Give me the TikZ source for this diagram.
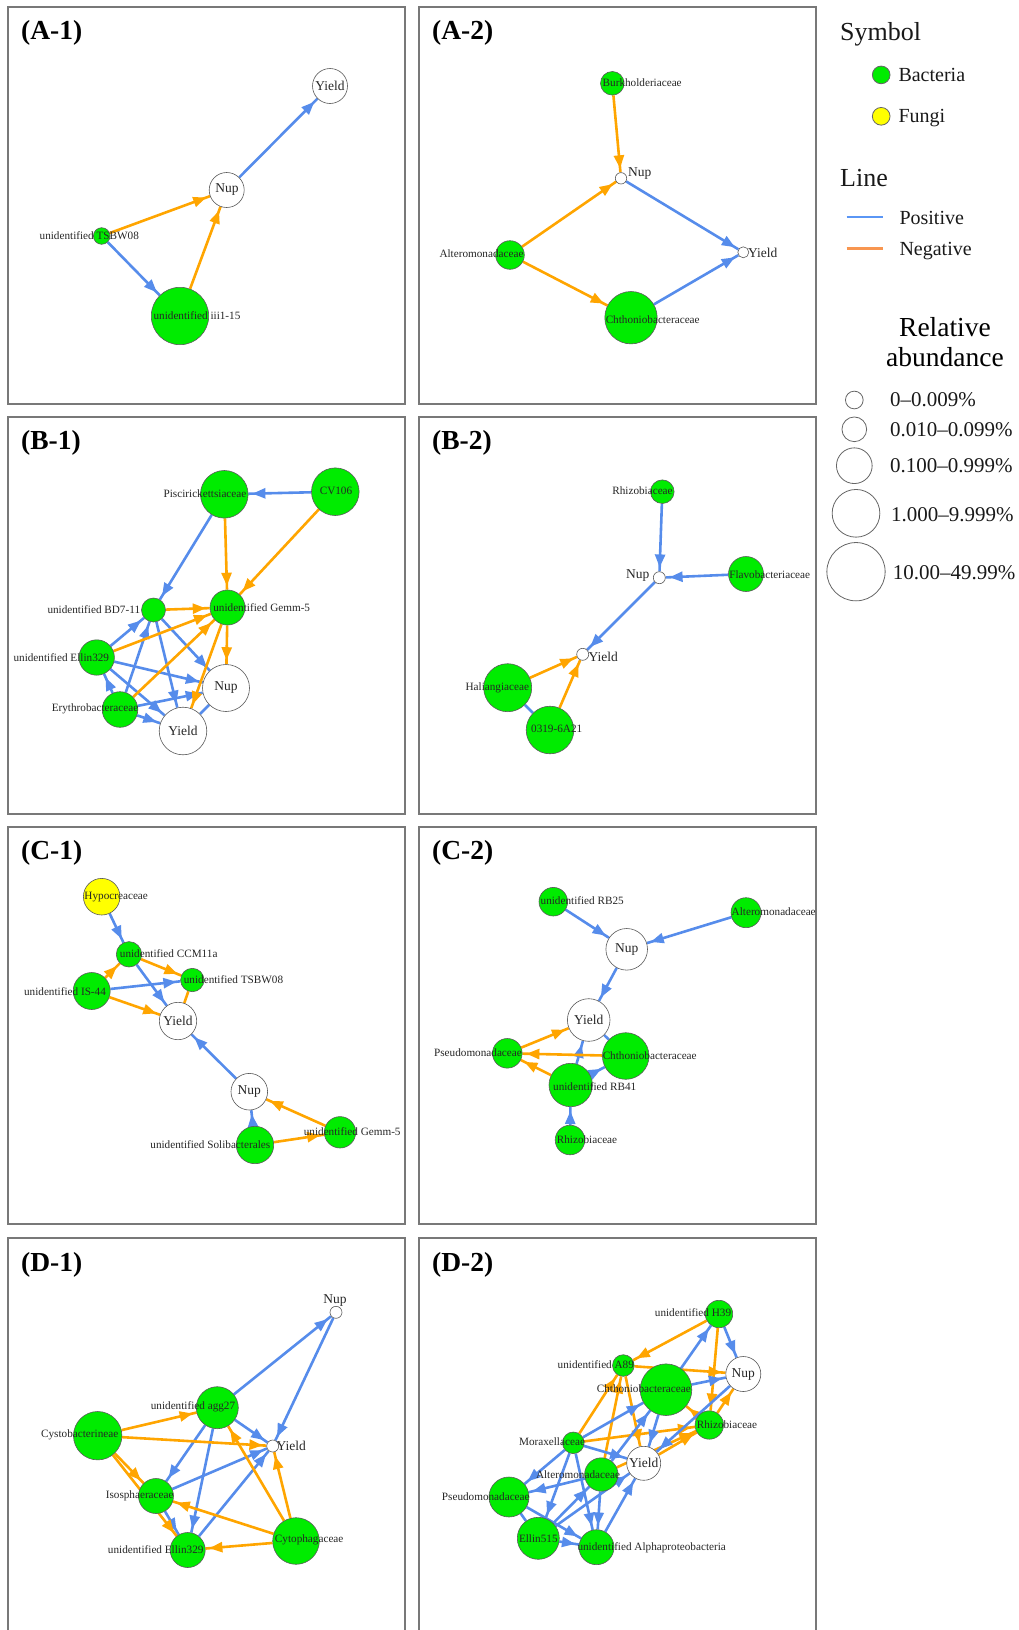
\documentclass[tikz,border=0pt]{standalone}
\usepackage{fontspec}
\setmainfont{Liberation Serif}
\usetikzlibrary{arrows.meta,decorations.markings,shapes.geometric}
\pgfdeclarelayer{edges}
\pgfsetlayers{edges,main}
\definecolor{posblue}{RGB}{86,140,235}
\definecolor{negorange}{RGB}{255,165,0}
\definecolor{taxgreen}{RGB}{0,236,0}
\definecolor{fungyellow}{RGB}{255,255,0}
\definecolor{framegray}{RGB}{120,120,120}
\definecolor{rimgray}{RGB}{90,90,90}
\definecolor{legblue}{RGB}{90,150,245}
\definecolor{legorange}{RGB}{248,150,80}
\tikzset{
  panel/.style={draw=framegray, line width=1.1pt},
  ptitle/.style={font=\fontsize{27.5}{28}\selectfont\bfseries, anchor=west, inner sep=0pt},
  taxon/.style={circle, draw=rimgray, line width=0.6pt, fill=taxgreen, minimum size=#1, inner sep=0pt},
  fungus/.style={circle, draw=rimgray, line width=0.6pt, fill=fungyellow, minimum size=#1, inner sep=0pt},
  trait/.style={circle, draw=rimgray, line width=0.6pt, fill=white, minimum size=#1, inner sep=0pt},
  lab/.style={font=\fontsize{11.2}{12}\selectfont, text=black!85, inner sep=0pt},
  tlab/.style={font=\fontsize{13.5}{14}\selectfont, text=black!85, inner sep=0pt},
  arrowtip/.style={decoration={markings, mark=at position -4pt with {\arrow{Triangle[length=13pt,width=10pt]}}}, postaction={decorate}},
  posline/.style={color=posblue, line width=2.6pt},
  negline/.style={color=negorange, line width=2.6pt},
  posarrow/.style={posline, arrowtip},
  negarrow/.style={negline, arrowtip},
  legtext/.style={anchor=base west, inner sep=0pt, text=black!90},
  legring/.style={circle, draw=black!60, line width=0.8pt, fill=white, inner sep=0pt, minimum size=#1},
  legdot/.style={circle, draw=black!60, line width=0.8pt, fill=#1, inner sep=0pt, minimum size=17.7pt},
}
\begin{document}
\begin{tikzpicture}[x=1pt,y=-1pt]
\useasboundingbox (0,0) rectangle (1019,1630);

% ---------- panel frames and titles ----------
\draw[panel] (8,7) rectangle (405,404);
\draw[panel] (419,7) rectangle (816,404);
\draw[panel] (8,417) rectangle (405,814);
\draw[panel] (419,417) rectangle (816,814);
\draw[panel] (8,827) rectangle (405,1224);
\draw[panel] (419,827) rectangle (816,1224);
\draw[panel] (8,1630) -- (8,1238) -- (405,1238) -- (405,1630);
\draw[panel] (419,1630) -- (419,1238) -- (816,1238) -- (816,1630);
\node[ptitle] (tA1) at (21,33) {(A-1)};
\node[ptitle] (tA2) at (432,33) {(A-2)};
\node[ptitle] (tB1) at (21,443) {(B-1)};
\node[ptitle] (tB2) at (432,443) {(B-2)};
\node[ptitle] (tC1) at (21,853) {(C-1)};
\node[ptitle] (tC2) at (432,853) {(C-2)};
\node[ptitle] (tD1) at (21,1265) {(D-1)};
\node[ptitle] (tD2) at (432,1265) {(D-2)};

% ---------- A-1 ----------
\node[trait=35pt] (a1y) at (330,86) {};
\node[trait=35pt] (a1n) at (226.7,190) {};
\node[taxon=16.6pt] (a1t) at (101.7,236) {};
\node[taxon=57.4pt] (a1i) at (180,316) {};
\node[tlab] (a1yl) at (330,86) {Yield};
\node[tlab] (a1nl) at (227,190) {Nup};
\node[lab] (a1tl) at (89.3,236) {unidentified TSBW08};
\node[lab] (a1il) at (197,316) {unidentified iii1-15};
\begin{pgfonlayer}{edges}
\draw[negarrow] (a1t) -- (a1n);
\draw[negarrow] (a1i) -- (a1n);
\draw[posarrow] (a1t) -- (a1i);
\draw[posarrow] (a1n) -- (a1y);
\end{pgfonlayer}

% ---------- A-2 ----------
\node[taxon=23.6pt] (a2bu) at (612.3,83.3) {};
\node[trait=11.4pt] (a2n) at (621,178.3) {};
\node[taxon=28.6pt] (a2al) at (510,255) {};
\node[trait=11pt] (a2y) at (743.3,252.3) {};
\node[taxon=52.4pt] (a2ch) at (631,317.7) {};
\node[lab] (a2bul) at (642.2,83) {Burkholderiaceae};
\node[tlab] (a2nl) at (639.8,173.3) {Nup};
\node[lab] (a2all) at (481.5,254) {Alteromonadaceae};
\node[tlab] (a2yl) at (762.8,253.3) {Yield};
\node[lab] (a2chl) at (652.7,319.3) {Chthoniobacteraceae};
\begin{pgfonlayer}{edges}
\draw[negarrow] (a2bu) -- (a2n);
\draw[negarrow] (a2al) -- (a2n);
\draw[negarrow] (a2al) -- (a2ch);
\draw[posarrow] (a2n) -- (a2y);
\draw[posarrow] (a2ch) -- (a2y);
\end{pgfonlayer}

% ---------- B-1 ----------
\node[taxon=47.6pt] (b1pi) at (224.3,494.3) {};
\node[taxon=47.6pt] (b1cv) at (335.3,491.7) {};
\node[taxon=24pt] (b1bd) at (153.5,610) {};
\node[taxon=35pt] (b1ge) at (227.5,607.5) {};
\node[taxon=35.4pt] (b1el) at (96.7,657.5) {};
\node[taxon=35.6pt] (b1er) at (120,709.5) {};
\node[trait=47pt] (b1n) at (226,688) {};
\node[trait=47.6pt] (b1y) at (183,731) {};
\node[lab] (b1pil) at (205,493.3) {Piscirickettsiaceae};
\node[lab] (b1cvl) at (336,490.7) {CV106};
\node[lab] (b1bdl) at (93.8,609.3) {unidentified BD7-11};
\node[lab] (b1gel) at (261.7,607.3) {unidentified Gemm-5};
\node[lab] (b1ell) at (61.3,657.3) {unidentified Ellin329};
\node[lab] (b1erl) at (95,709) {Erythrobacteraceae};
\node[tlab] (b1nl) at (226,688) {Nup};
\node[tlab] (b1yl) at (183,731) {Yield};
\begin{pgfonlayer}{edges}
\draw[posarrow] (b1cv) -- (b1pi);
\draw[posarrow] (b1pi) -- (b1bd);
\draw[posarrow] (b1el) -- (b1bd);
\draw[posarrow] (b1er) -- (b1bd);
\draw[posarrow] (b1bd) -- (b1n);
\draw[posarrow] (b1bd) -- (b1y);
\draw[posarrow] (b1el) -- (b1n);
\draw[posarrow] (b1el) -- (b1y);
\draw[posarrow] (b1er) -- (b1el);
\draw[posarrow] (b1er) -- (b1n);
\draw[posarrow] (b1er) -- (b1y);
\draw[posline] (b1y) -- (b1n);
\draw[negarrow] (b1pi) -- (b1ge);
\draw[negarrow] (b1cv) -- (b1ge);
\draw[negarrow] (b1bd) -- (b1ge);
\draw[negarrow] (b1el) -- (b1ge);
\draw[negarrow] (b1er) -- (b1ge);
\draw[negarrow] (b1ge) -- (b1n);
\draw[negarrow] (b1ge) -- (b1y);
\end{pgfonlayer}

% ---------- B-2 ----------
\node[taxon=23.6pt] (b2rh) at (662.3,491.7) {};
\node[trait=12pt] (b2n) at (659.3,577.7) {};
\node[taxon=35pt] (b2fl) at (746,574) {};
\node[trait=12pt] (b2y) at (582.7,654.3) {};
\node[taxon=48pt] (b2ha) at (507.7,687.7) {};
\node[taxon=47.6pt] (b2o) at (550,730) {};
\node[lab] (b2rhl) at (642.5,491) {Rhizobiaceae};
\node[tlab] (b2nl) at (637.7,575.7) {Nup};
\node[lab] (b2fll) at (769.7,575) {Flavobacteriaceae};
\node[tlab] (b2yl) at (603.3,657) {Yield};
\node[lab] (b2hal) at (497.3,687.7) {Haliangiaceae};
\node[lab] (b2ol) at (556.7,729) {0319-6A21};
\begin{pgfonlayer}{edges}
\draw[posarrow] (b2rh) -- (b2n);
\draw[posarrow] (b2fl) -- (b2n);
\draw[posarrow] (b2n) -- (b2y);
\draw[negarrow] (b2ha) -- (b2y);
\draw[negarrow] (b2o) -- (b2y);
\draw[posline] (b2ha) -- (b2o);
\end{pgfonlayer}

% ---------- C-1 ----------
\node[fungus=36.6pt] (c1hy) at (101.7,896.7) {};
\node[taxon=25.4pt] (c1cc) at (129,954.3) {};
\node[taxon=37pt] (c1is) at (91.7,991) {};
\node[taxon=23.4pt] (c1ts) at (192.3,980) {};
\node[trait=37.4pt] (c1y) at (178,1021) {};
\node[trait=36.6pt] (c1n) at (249.3,1091.7) {};
\node[taxon=31.4pt] (c1ge) at (340,1132.3) {};
\node[taxon=37.4pt] (c1so) at (255,1145) {};
\node[lab] (c1hyl) at (116.2,896.7) {Hypocreaceae};
\node[lab] (c1ccl) at (168.7,953.3) {unidentified CCM11a};
\node[lab] (c1isl) at (65,991.7) {unidentified IS-44};
\node[lab] (c1tsl) at (233.5,979.3) {unidentified TSBW08};
\node[tlab] (c1yl) at (178,1021) {Yield};
\node[tlab] (c1nl) at (249.3,1091.7) {Nup};
\node[lab] (c1gel) at (352.2,1132) {unidentified Gemm-5};
\node[lab] (c1sol) at (210.3,1145) {unidentified Solibacterales};
\begin{pgfonlayer}{edges}
\draw[posarrow] (c1hy) -- (c1cc);
\draw[posarrow] (c1cc) -- (c1y);
\draw[posarrow] (c1is) -- (c1ts);
\draw[posarrow] (c1n) -- (c1y);
\draw[posarrow] (c1so) -- (c1n);
\draw[negarrow] (c1is) -- (c1cc);
\draw[negarrow] (c1cc) -- (c1ts);
\draw[negarrow] (c1is) -- (c1y);
\draw[negarrow] (c1ge) -- (c1n);
\draw[negarrow] (c1so) -- (c1ge);
\draw[negline] (c1ts) -- (c1y);
\end{pgfonlayer}

% ---------- C-2 ----------
\node[taxon=28.6pt] (c2rb25) at (553.3,901.7) {};
\node[taxon=30pt] (c2al) at (746,912.7) {};
\node[trait=41.6pt] (c2n) at (626.7,949.3) {};
\node[trait=42.6pt] (c2y) at (588.7,1020) {};
\node[taxon=29.6pt] (c2ps) at (507.3,1053.3) {};
\node[taxon=46.6pt] (c2ch) at (625.7,1056) {};
\node[taxon=43.4pt] (c2rb41) at (570.7,1085) {};
\node[taxon=29.6pt] (c2rh) at (570,1140) {};
\node[lab] (c2rb25l) at (582.2,901) {unidentified RB25};
\node[lab] (c2all) at (773.7,912) {Alteromonadaceae};
\node[tlab] (c2nl) at (626.7,949.3) {Nup};
\node[tlab] (c2yl) at (588.7,1020) {Yield};
\node[lab] (c2psl) at (478,1052.7) {Pseudomonadaceae};
\node[lab] (c2chl) at (649.7,1056) {Chthoniobacteraceae};
\node[lab] (c2rb41l) at (594.7,1086.7) {unidentified RB41};
\node[lab] (c2rhl) at (587,1140) {Rhizobiaceae};
\begin{pgfonlayer}{edges}
\draw[posarrow] (c2rb25) -- (c2n);
\draw[posarrow] (c2al) -- (c2n);
\draw[posarrow] (c2n) -- (c2y);
\draw[posarrow] (c2rb41) -- (c2y);
\draw[posarrow] (c2rb41) -- (c2ch);
\draw[posarrow] (c2rh) -- (c2rb41);
\draw[posline] (c2ch) -- (c2y);
\draw[negarrow] (c2ps) -- (c2y);
\draw[negarrow] (c2ch) -- (c2ps);
\draw[negarrow] (c2rb41) -- (c2ps);
\end{pgfonlayer}

% ---------- D-1 ----------
\node[trait=12pt] (d1n) at (336,1312.3) {};
\node[taxon=42pt] (d1ag) at (217.3,1407.7) {};
\node[taxon=48.4pt] (d1cy) at (97.7,1435.7) {};
\node[trait=12pt] (d1y) at (272.7,1446) {};
\node[taxon=35pt] (d1is) at (156,1496) {};
\node[taxon=35pt] (d1el) at (187.7,1550) {};
\node[taxon=46.6pt] (d1cp) at (296,1541) {};
\node[tlab] (d1nl) at (335,1300.7) {Nup};
\node[lab] (d1agl) at (193,1406.7) {unidentified agg27};
\node[lab] (d1cyl) at (79.7,1435) {Cystobacterineae};
\node[tlab] (d1yl) at (291.3,1446) {Yield};
\node[lab] (d1isl) at (139.7,1495.7) {Isosphaeraceae};
\node[lab] (d1ell) at (155.7,1550) {unidentified Ellin329};
\node[lab] (d1cpl) at (309.2,1540) {Cytophagaceae};
\begin{pgfonlayer}{edges}
\draw[posarrow] (d1ag) -- (d1n);
\draw[posarrow] (d1n) -- (d1y);
\draw[posarrow] (d1ag) -- (d1y);
\draw[posarrow] (d1ag) -- (d1is);
\draw[posarrow] (d1ag) -- (d1el);
\draw[posarrow] (d1is) -- (d1y);
\draw[posarrow] (d1el) -- (d1y);
\draw[posarrow] (d1is) -- (d1el);
\draw[negarrow] (d1cy) -- (d1ag);
\draw[negarrow] (d1cy) -- (d1y);
\draw[negarrow] (d1cy) -- (d1is);
\draw[negarrow] (d1cy) -- (d1el);
\draw[negarrow] (d1cp) -- (d1is);
\draw[negarrow] (d1cp) -- (d1el);
\draw[negarrow] (d1cp) -- (d1y);
\draw[negarrow] (d1cp) -- (d1ag);
\end{pgfonlayer}

% ---------- D-2 ----------
\node[taxon=27.4pt] (d2h) at (719,1314) {};
\node[taxon=21.6pt] (d2a) at (623.3,1365.5) {};
\node[trait=35pt] (d2n) at (743.3,1374) {};
\node[taxon=51.6pt] (d2ch) at (666,1389.7) {};
\node[taxon=28.4pt] (d2rh) at (709.3,1425) {};
\node[taxon=21.6pt] (d2mo) at (573.3,1442.8) {};
\node[trait=34pt] (d2y) at (643.7,1463.3) {};
\node[taxon=33.4pt] (d2al) at (601.3,1474.5) {};
\node[taxon=40pt] (d2ps) at (509,1497) {};
\node[taxon=42pt] (d2el) at (538.3,1538.3) {};
\node[taxon=35pt] (d2ap) at (596.5,1547.2) {};
\node[lab] (d2hl) at (693,1312.3) {unidentified H39};
\node[lab] (d2al89) at (595.8,1365) {unidentified A89};
\node[tlab] (d2nl) at (743.3,1374) {Nup};
\node[lab] (d2chl) at (643.8,1388.3) {Chthoniobacteraceae};
\node[lab] (d2rhl) at (727,1425) {Rhizobiaceae};
\node[lab] (d2mol) at (552,1442) {Moraxellaceae};
\node[tlab] (d2yl) at (643.7,1463.3) {Yield};
\node[lab] (d2all) at (578,1474.7) {Alteromonadaceae};
\node[lab] (d2psl) at (485.8,1496.7) {Pseudomonadaceae};
\node[lab] (d2ell) at (538.3,1538.3) {Ellin515};
\node[lab] (d2apl) at (651.7,1547.7) {unidentified Alphaproteobacteria};
\begin{pgfonlayer}{edges}
\draw[negarrow] (d2h) -- (d2a);
\draw[negarrow] (d2h) -- (d2rh);
\draw[negarrow] (d2a) -- (d2n);
\draw[negarrow] (d2a) -- (d2y);
\draw[negarrow] (d2mo) -- (d2a);
\draw[negarrow] (d2al) -- (d2a);
\draw[negarrow] (d2rh) -- (d2ch);
\draw[negarrow] (d2rh) -- (d2n);
\draw[negarrow] (d2mo) -- (d2rh);
\draw[negarrow] (d2y) -- (d2rh);
\draw[negarrow] (d2al) -- (d2rh);
\draw[posarrow] (d2h) -- (d2n);
\draw[posarrow] (d2ch) -- (d2h);
\draw[posarrow] (d2ch) -- (d2n);
\draw[posarrow] (d2mo) -- (d2ch);
\draw[posarrow] (d2ch) -- (d2y);
\draw[posarrow] (d2al) -- (d2ch);
\draw[posarrow] (d2mo) -- (d2y);
\draw[posarrow] (d2n) -- (d2y);
\draw[posarrow] (d2mo) -- (d2ps);
\draw[posarrow] (d2al) -- (d2ps);
\draw[posarrow] (d2mo) -- (d2el);
\draw[posarrow] (d2mo) -- (d2ap);
\draw[posarrow] (d2al) -- (d2ap);
\draw[posarrow] (d2el) -- (d2al);
\draw[posarrow] (d2el) -- (d2y);
\draw[posarrow] (d2ap) -- (d2y);
\draw[posarrow] (d2ps) -- (d2ap);
\draw[posarrow] (d2el) -- (d2ap);
\draw[posline] (d2ps) -- (d2el);
\end{pgfonlayer}

% ---------- legend ----------
\node[legtext, font=\fontsize{26}{26}\selectfont] (lsym) at (840,40.5) {Symbol};
\node[legdot=taxgreen] (lbac) at (881.2,74.9) {};
\node[legtext, font=\fontsize{20}{20}\selectfont] (lbact) at (898.3,81.5) {Bacteria};
\node[legdot=fungyellow] (lfun) at (881.2,116.3) {};
\node[legtext, font=\fontsize{20}{20}\selectfont] (lfunt) at (898.3,122.9) {Fungi};

\node[legtext, font=\fontsize{26}{26}\selectfont] (lline) at (840,186.7) {Line};
\coordinate (lpa) at (846.7,216.7);
\coordinate (lpb) at (883.3,216.7);
\coordinate (lna) at (846.7,248.3);
\coordinate (lnb) at (883.3,248.3);
\draw[legblue, line width=2.4pt] (lpa) -- (lpb);
\draw[legorange, line width=2.4pt] (lna) -- (lnb);
\node[legtext, font=\fontsize{20}{20}\selectfont] (lpos) at (899.3,224) {Positive};
\node[legtext, font=\fontsize{20}{20}\selectfont] (lneg) at (899.3,255) {Negative};

\node[anchor=base, inner sep=0pt, font=\fontsize{27.5}{28}\selectfont] (lrel) at (945,336.7) {Relative};
\node[anchor=base, inner sep=0pt, font=\fontsize{27.5}{28}\selectfont] (labd) at (945,366.7) {abundance};

\node[legring=17.7pt] (lr1) at (854.3,400) {};
\node[legring=24.7pt] (lr2) at (854.3,429.3) {};
\node[legring=35.7pt] (lr3) at (854.3,465.7) {};
\node[legring=47.7pt] (lr4) at (856,513.3) {};
\node[legring=58.3pt] (lr5) at (856,571.7) {};
\node[legtext, font=\fontsize{21}{21}\selectfont] (lr1t) at (890,406.7) {0–0.009\%};
\node[legtext, font=\fontsize{21}{21}\selectfont] (lr2t) at (890,436.7) {0.010–0.099\%};
\node[legtext, font=\fontsize{21}{21}\selectfont] (lr3t) at (890,472.3) {0.100–0.999\%};
\node[legtext, font=\fontsize{21}{21}\selectfont] (lr4t) at (891,521.7) {1.000–9.999\%};
\node[legtext, font=\fontsize{21}{21}\selectfont] (lr5t) at (892.7,579) {10.00–49.99\%};
\end{tikzpicture}
\end{document}
